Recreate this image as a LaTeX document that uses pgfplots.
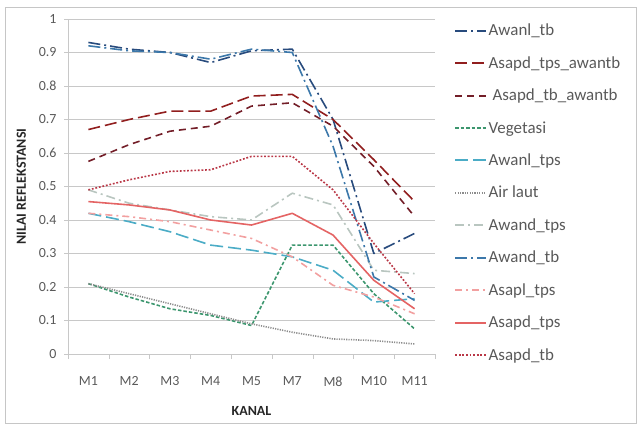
\documentclass[border=0pt]{standalone}
\usepackage{pgfplots}
\pgfplotsset{compat=1.18}
\usepackage{fontspec}
\setmainfont{Carlito}

\definecolor{cAwanlTb}{RGB}{40,75,125}
\definecolor{cAsapdTpsAw}{RGB}{145,30,30}
\definecolor{cAsapdTbAw}{RGB}{115,30,40}
\definecolor{cVeg}{RGB}{60,150,110}
\definecolor{cAwanlTps}{RGB}{75,172,198}
\definecolor{cAir}{RGB}{140,140,140}
\definecolor{cAwandTps}{RGB}{185,198,192}
\definecolor{cAwandTb}{RGB}{60,120,170}
\definecolor{cAsaplTps}{RGB}{242,160,160}
\definecolor{cAsapdTps}{RGB}{228,100,100}
\definecolor{cAsapdTb}{RGB}{185,55,70}
\definecolor{txt}{RGB}{89,89,89}
\definecolor{gridc}{RGB}{200,200,200}

\begin{document}
\begin{tikzpicture}
\path[use as bounding box] (0bp,0bp) rectangle (640bp,425bp);
\draw[gray!45, line width=0.8bp] (5bp,2bp) rectangle (636bp,418bp);
\begin{axis}[
  at={(68bp,71bp)}, anchor=south west,
  scale only axis, width=367bp, height=335bp,
  xmin=0.5, xmax=9.5, ymin=0, ymax=1,
  axis x line=bottom, axis y line=left,
  axis line style={draw=gridc, -},
  xtick={1,...,9},
  xticklabels={M1,M2,M3,M4,M5,M7,M8,M10,M11},
  major x tick style={draw=none},
  minor xtick={0.5,1.5,...,9.5},
  minor x tick style={draw=gridc},
  minor tick length=5bp,
  ytick={0,0.1,...,1.0},
  yticklabels={0,0.1,0.2,0.3,0.4,0.5,0.6,0.7,0.8,0.9,1},
  major tick length=4bp,
  tick align=outside,
  ytick style={draw=gridc},
  ymajorgrids, grid style={draw=gridc, line width=0.8bp},
  tick label style={color=txt, font=\fontsize{14}{16}\selectfont},
  xticklabel style={yshift=-15bp},
  yticklabel style={xshift=-4bp},
  xlabel={\textbf{KANAL}},
  ylabel={\textbf{NILAI REFLEKSTANSI}},
  label style={font=\fontsize{14}{16}\selectfont, color=black!85},
  xlabel style={yshift=-13bp},
  ylabel style={yshift=6bp},
  legend cell align=left,
  legend image code/.code={\draw[#1, line width=1.9bp] (0bp,0bp) -- (31bp,0bp);},
  legend style={at={(axis description cs:1.052,0.99)}, anchor=north west,
    draw=none, fill=none, font=\fontsize{17}{19}\selectfont, text=txt,
    row sep=16.2bp, inner sep=0pt, nodes={inner sep=1.5bp}},
  every axis plot/.append style={line width=1.6bp, line join=round},
]
% Awanl_tb
\addplot[cAwanlTb, dash pattern=on 12bp off 4bp on 2bp off 4bp]
  coordinates {(1,0.93)(2,0.91)(3,0.90)(4,0.87)(5,0.905)(6,0.91)(7,0.70)(8,0.30)(9,0.36)};
\addlegendentry{Awanl\_tb}
% Asapd_tps_awantb
\addplot[cAsapdTpsAw, dash pattern=on 12bp off 5bp]
  coordinates {(1,0.67)(2,0.70)(3,0.725)(4,0.725)(5,0.77)(6,0.775)(7,0.70)(8,0.58)(9,0.455)};
\addlegendentry{Asapd\_tps\_awantb}
% Asapd_tb_awantb
\addplot[cAsapdTbAw, dash pattern=on 7bp off 5bp]
  coordinates {(1,0.575)(2,0.625)(3,0.665)(4,0.68)(5,0.74)(6,0.75)(7,0.68)(8,0.56)(9,0.41)};
\addlegendentry{\ Asapd\_tb\_awantb}
% Vegetasi
\addplot[cVeg, dash pattern=on 3.5bp off 2bp]
  coordinates {(1,0.21)(2,0.17)(3,0.135)(4,0.115)(5,0.085)(6,0.325)(7,0.325)(8,0.18)(9,0.075)};
\addlegendentry{Vegetasi}
% Awanl_tps
\addplot[cAwanlTps, dash pattern=on 13bp off 5bp]
  coordinates {(1,0.42)(2,0.395)(3,0.365)(4,0.325)(5,0.31)(6,0.29)(7,0.25)(8,0.155)(9,0.165)};
\addlegendentry{Awanl\_tps}
% Air laut
\addplot[cAir, dash pattern=on 1.2bp off 1.2bp]
  coordinates {(1,0.21)(2,0.18)(3,0.15)(4,0.12)(5,0.09)(6,0.065)(7,0.045)(8,0.04)(9,0.03)};
\addlegendentry{Air laut}
% Awand_tps
\addplot[cAwandTps, dash pattern=on 9bp off 4bp on 2bp off 4bp]
  coordinates {(1,0.49)(2,0.45)(3,0.43)(4,0.41)(5,0.40)(6,0.48)(7,0.445)(8,0.25)(9,0.24)};
\addlegendentry{Awand\_tps}
% Awand_tb
\addplot[cAwandTb, dash pattern=on 12bp off 4bp on 2bp off 4bp]
  coordinates {(1,0.92)(2,0.905)(3,0.90)(4,0.88)(5,0.91)(6,0.90)(7,0.62)(8,0.23)(9,0.16)};
\addlegendentry{Awand\_tb}
% Asapl_tps
\addplot[cAsaplTps, dash pattern=on 7bp off 4bp on 2bp off 4bp]
  coordinates {(1,0.42)(2,0.41)(3,0.395)(4,0.37)(5,0.345)(6,0.29)(7,0.205)(8,0.17)(9,0.12)};
\addlegendentry{Asapl\_tps}
% Asapd_tps
\addplot[cAsapdTps]
  coordinates {(1,0.455)(2,0.445)(3,0.43)(4,0.40)(5,0.385)(6,0.42)(7,0.355)(8,0.22)(9,0.135)};
\addlegendentry{Asapd\_tps}
% Asapd_tb
\addplot[cAsapdTb, dash pattern=on 1.8bp off 1.8bp]
  coordinates {(1,0.49)(2,0.52)(3,0.545)(4,0.55)(5,0.59)(6,0.59)(7,0.49)(8,0.33)(9,0.18)};
\addlegendentry{Asapd\_tb}
\end{axis}
\end{tikzpicture}
\end{document}
